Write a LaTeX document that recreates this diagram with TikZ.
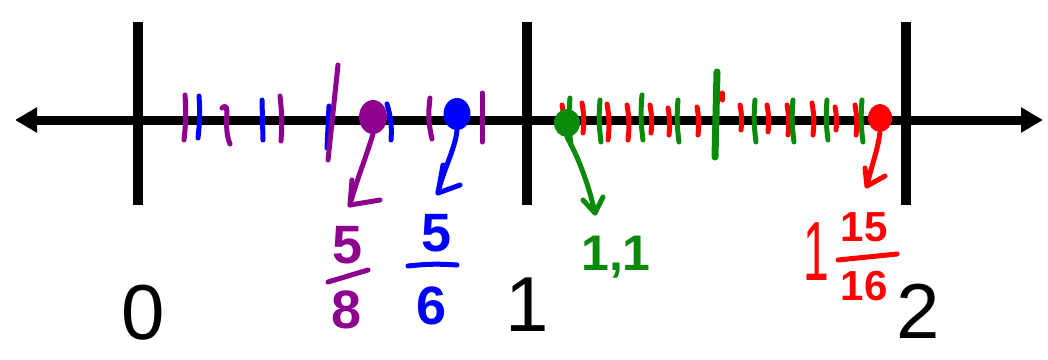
\documentclass[tikz,border=0pt]{standalone}
\usepackage{fontspec}
\setmainfont{Liberation Sans}
\usetikzlibrary{arrows.meta,shapes.geometric}
\definecolor{pur}{HTML}{8E008E}
\definecolor{blu}{HTML}{0000FF}
\definecolor{grn}{HTML}{0A8A0A}
\definecolor{rd}{HTML}{FF0000}
\begin{document}
\begin{tikzpicture}[x=1pt,y=-1pt,
  pen/.style={line width=5pt, line cap=round, line join=round},
  bigtick/.style={line width=10pt},
  big/.style={font=\fontsize{78}{78}\selectfont, inner sep=0pt},
  hand/.style={font=\bfseries\fontsize{54}{54}\selectfont, inner sep=0pt},
  dot/.style={ellipse, minimum width=28pt, minimum height=34pt, inner sep=0pt}]
\useasboundingbox (0,0) rectangle (1048,359);
% main line
\coordinate (L) at (15,120); \coordinate (R) at (1043,120);
\draw[line width=9pt, {Triangle[length=22pt,width=24pt]}-{Triangle[length=22pt,width=24pt]}] (L) -- (R);
% big ticks
\foreach \x in {138,527,906} \draw[bigtick] (\x,22) -- (\x,205);
\node[big] (n0) at (143,313) {0};
\node[big] (n1) at (527,305) {1};
\node[big] (n2) at (918,311) {2};
% left segment ticks
\draw[pen,pur] (185,95) to[bend left=5] (184,140);
\draw[pen,blu] (199,96) to[bend left=5] (198,138);
\draw[pen,pur] (222,108) .. controls (232,100) and (222,125) .. (230,144);
\draw[pen,blu] (262,100) -- (263,140);
\draw[pen,pur] (280,96) to[bend left=5] (281,141);
\draw[pen,blu] (329,106) -- (327,148);
\draw[pen,pur] (338,65) -- (328,160);
\draw[pen,blu] (387,104) to[bend left=10] (391,140);
\draw[pen,pur] (430,98) to[bend right=10] (432,139);
\draw[pen,pur] (482,93) -- (482,142);
\node[dot,fill=pur] (p) at (373,117) {};
\node[dot,fill=blu,minimum width=27pt,minimum height=32pt] (b) at (457,114) {};
% right segment ticks
\foreach \x/\a/\b in {562/105/130,582/103/133,607/104/140,627/105/140,650/105/133,668/108/135,697/107/135,740/105/130,767/105/132,787/105/135,812/103/135,835/107/130,855/105/135}
  \draw[pen,rd] (\x,\a) to[bend left=8] (\x+1,\b);
\draw[pen,rd] (722,93) -- (722,100);
\foreach \x/\a/\b in {570/98/145,600/100/142,642/95/140,678/100/142,755/100/142,793/100/142,827/100/140,862/100/142}
  \draw[pen,grn] (\x,\a) to[bend right=6] (\x+1,\b);
\draw[grn,line width=7pt,line cap=round] (717,72) -- (715,157);
\node[dot,fill=grn,minimum width=26pt,minimum height=28pt] (g) at (567,123) {};
\node[dot,fill=rd,minimum width=24pt,minimum height=28pt] (r) at (880,118) {};
% arrows
\coordinate (pt) at (350,205);
\draw[pen,pur] (p.south) .. controls (365,160) and (355,185) .. (pt);
\draw[pen,pur] (352,180) -- (pt) -- (380,200);
\coordinate (bt) at (438,193);
\draw[pen,blu] (b.south) .. controls (455,150) and (443,170) .. (bt);
\draw[pen,blu] (443,165) -- (bt) -- (460,185);
\coordinate (gt) at (595,213);
\draw[pen,grn] (g.south) .. controls (580,160) and (590,190) .. (gt);
\draw[pen,grn] (583,200) -- (gt) -- (603,197);
\coordinate (rt) at (867,186);
\draw[pen,rd] (r.south) .. controls (878,150) and (870,170) .. (rt);
\draw[pen,rd] (865,168) -- (rt) -- (885,176);
% fraction labels
\node[hand,pur] (p5) at (348,245) {5};
\node[hand,pur] (p8) at (347,310) {8};
\draw[pen,pur] (328,282) -- (368,270);
\node[hand,blu] (b5) at (437,233) {5};
\node[hand,blu] (b6) at (432,306) {6};
\draw[pen,blu] (408,266) to[bend left=5] (457,265);
\node[hand,grn,font=\bfseries\fontsize{50}{50}\selectfont] (g11) at (616,257) {1,1};
\node[inner sep=0pt,rd,font=\fontsize{84}{84}\selectfont,xscale=0.55] (r1) at (816,252) {1};
\node[hand,rd,font=\bfseries\fontsize{42}{42}\selectfont] (r15) at (864,227) {15};
\node[hand,rd,font=\bfseries\fontsize{42}{42}\selectfont] (r16) at (864,286) {16};
\draw[pen,rd] (838,260) -- (897,254);
\end{tikzpicture}
\end{document}
